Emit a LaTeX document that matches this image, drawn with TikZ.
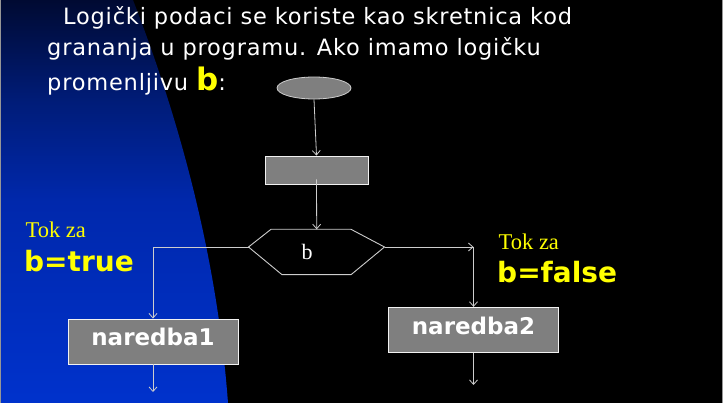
\documentclass[tikz,border=0pt]{standalone}
\usepackage{fontspec}
\usetikzlibrary{arrows.meta,shapes.geometric,calc}
\newfontfamily\vf[LetterSpace=3.5]{DejaVu Sans}
\newfontfamily\vfb{DejaVu Sans Bold}
\newfontfamily\tf{Liberation Serif}
\definecolor{bb0}{RGB}{0,10,50}
\definecolor{bb1}{RGB}{0,28,120}
\definecolor{bb2}{RGB}{0,40,172}
\definecolor{bb3}{RGB}{0,50,204}
\definecolor{boxgray}{RGB}{127,127,127}
\definecolor{linegray}{RGB}{205,205,205}
\definecolor{edgegray}{RGB}{150,150,150}
\definecolor{yel}{RGB}{255,255,0}
\pgfdeclareverticalshading{bluebg}{100bp}{color(0bp)=(bb3); color(25bp)=(bb3); color(50bp)=(bb2); color(62.5bp)=(bb1); color(75bp)=(bb0); color(100bp)=(bb0)}
\tikzset{
  conn/.style={draw=linegray, line width=0.8pt},
  arr/.style={conn, -{Straight Barb[length=4.5pt,width=8pt]}},
  boxnode/.style={rectangle, draw=white!90!gray, line width=0.9pt, fill=boxgray,
    minimum width=170pt, minimum height=45pt, inner sep=0pt,
    text=white, font=\vfb\fontsize{23}{26}\selectfont, text height=12pt, text depth=3.4pt},
  txt/.style={inner sep=0pt, anchor=base west},
  toptxt/.style={txt, text=white, font=\vf\fontsize{22.5}{26}\selectfont},
}
\begin{document}
\begin{tikzpicture}[x=1pt,y=-1pt]
\useasboundingbox (0,0) rectangle (723,403);
% background
\fill[black] (0,0) rectangle (723,403);
\shade[shading=bluebg] (0,0) -- (133,0) .. controls (185,134) and (218,269) .. (228,403) -- (0,403) -- cycle;
\draw[edgegray, line width=1pt] (0.5,0) -- (0.5,403);
\draw[edgegray, line width=1pt] (722,0) -- (722,403);
% top text
\node[toptxt] (l1) at (63,25) {Logički podaci se koriste kao skretnica kod};
\node[toptxt] (l2) at (47,56) {grananja u programu. Ako imamo logičku};
\node[toptxt] (l3) at (47,90.5) {promenljivu {\vfb\fontsize{31}{34}\selectfont\textcolor{yel}{b}}:};
% flowchart
\node[ellipse, draw=linegray, line width=0.8pt, fill=boxgray, minimum width=74pt, minimum height=22pt, inner sep=0pt] (ell) at (314,88) {};
\node[rectangle, draw=white!90!gray, line width=0.9pt, fill=boxgray, minimum width=103pt, minimum height=28pt, inner sep=0pt] (r1) at (316.5,170) {};
\coordinate (hL) at (248.5,247);
\coordinate (hTL) at (271,229.3);
\coordinate (hTR) at (351,229.3);
\coordinate (hR) at (384.5,247);
\coordinate (hBR) at (351,274.7);
\coordinate (hBL) at (282,274.7);
\draw[draw=linegray, line width=0.9pt] (hL) -- (hTL) -- (hTR) -- (hR) -- (hBR) -- (hBL) -- cycle;
\node[inner sep=0pt, anchor=base, text=white, font=\tf\fontsize{22}{24}\selectfont] (hb) at (307,260) {b};
\coordinate (hT) at (316.7,229.3);
\node[boxnode] (n1) at (153,341.5) {naredba1};
\node[boxnode] (n2) at (473.5,329.8) {naredba2};
\coordinate (cL) at (n1.north |- hL);
\coordinate (cR) at (n2.north |- hR);
\coordinate (e1) at (153,392);
\coordinate (e2) at (473.5,385);
\draw[arr] (ell.south) -- (r1.north);
\draw[arr] ([yshift=5pt]r1.south) -- (hT);
\draw[arr] (hL) -- (cL) -- (n1.north);
\draw[arr] (hR) -- (cR);
\draw[arr] (cR) -- (n2.north);
\draw[arr] (n1.south) -- (e1);
\draw[arr] (n2.south) -- (e2);
% labels
\node[txt, text=yel, font=\tf\fontsize{22.5}{24}\selectfont] (tl) at (25.5,237.7) {Tok za};
\node[txt, text=yel, font=\vfb\fontsize{28}{30}\selectfont] (bl) at (24,271.7) {b=true};
\node[txt, text=yel, font=\tf\fontsize{22.5}{24}\selectfont] (tr) at (498.5,249.3) {Tok za};
\node[txt, text=yel, font=\vfb\fontsize{28}{30}\selectfont] (br) at (497,282.7) {b=false};
\end{tikzpicture}
\end{document}
